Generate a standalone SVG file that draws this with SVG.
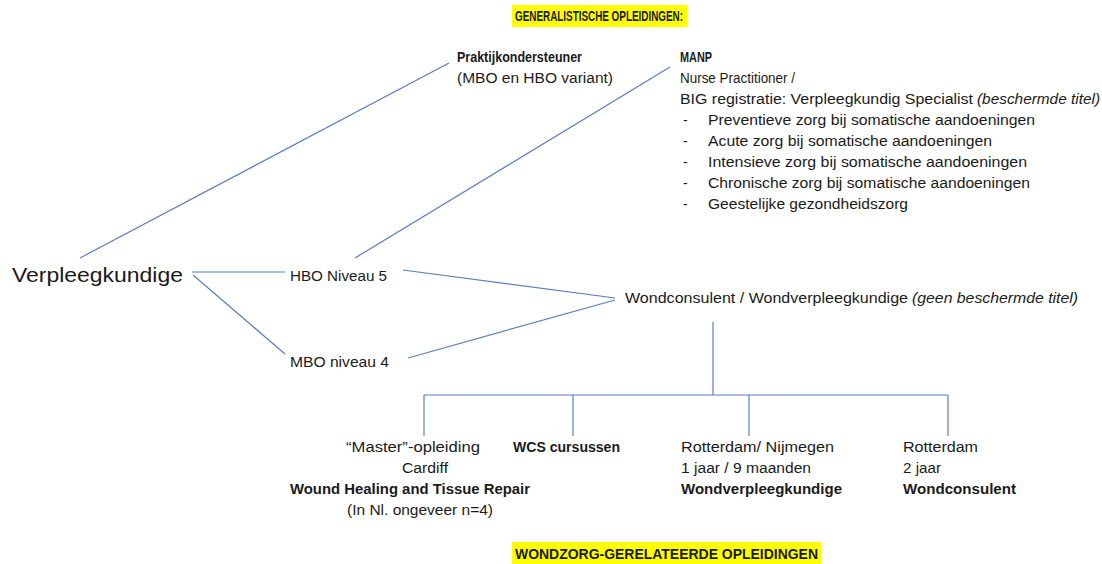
<svg xmlns="http://www.w3.org/2000/svg" width="1102" height="564" viewBox="0 0 1102 564">
<style>
text{font-family:"Liberation Sans",Arial,sans-serif;font-size:14px;fill:#1a1a1a}
.b{font-weight:bold}
.i{font-style:italic}
.big{font-size:20px}
.c line,.c polyline{stroke:#5a7fbf;stroke-width:1.2;fill:none}
.hl{fill:#ffff00}
</style>
<rect width="1102" height="564" fill="#ffffff"/>
<g id="title-top">
<rect class="hl" x="512" y="5" width="175" height="22"/>
<text class="b" x="515" y="21" textLength="168" lengthAdjust="spacingAndGlyphs">GENERALISTISCHE OPLEIDINGEN:</text>
</g>
<g id="title-bottom">
<rect class="hl" x="512" y="542" width="309" height="22"/>
<text class="b" x="515" y="559" textLength="303" lengthAdjust="spacingAndGlyphs">WONDZORG-GERELATEERDE OPLEIDINGEN</text>
</g>
<g class="c" id="connectors">
<line x1="80" y1="258" x2="449" y2="63"/>
<line x1="355" y1="258" x2="670" y2="67"/>
<line x1="192" y1="272" x2="285" y2="272"/>
<line x1="193" y1="275" x2="285" y2="354"/>
<line x1="403" y1="270" x2="615" y2="298"/>
<line x1="408" y1="358" x2="615" y2="300"/>
<line x1="713" y1="322" x2="713" y2="395"/>
<line x1="424" y1="395" x2="948" y2="395"/>
<line x1="424" y1="395" x2="424" y2="436"/>
<line x1="573" y1="395" x2="573" y2="436"/>
<line x1="749" y1="395" x2="749" y2="436"/>
<line x1="948" y1="395" x2="948" y2="436"/>
</g>
<g id="verpleegkundige">
<text class="big" x="12" y="282" textLength="171" lengthAdjust="spacingAndGlyphs">Verpleegkundige</text>
</g>
<g id="praktijkondersteuner">
<text class="b" x="457" y="62" textLength="125" lengthAdjust="spacingAndGlyphs">Praktijkondersteuner</text>
<text x="457" y="83" textLength="156" lengthAdjust="spacingAndGlyphs">(MBO en HBO variant)</text>
</g>
<g id="manp">
<text class="b" x="680" y="62" textLength="32" lengthAdjust="spacingAndGlyphs">MANP</text>
<text x="680" y="83" textLength="115" lengthAdjust="spacingAndGlyphs">Nurse Practitioner /</text>
<text x="680" y="104" textLength="293" lengthAdjust="spacingAndGlyphs">BIG registratie: Verpleegkundig Specialist</text>
<text class="i" x="977" y="104" textLength="123" lengthAdjust="spacingAndGlyphs">(beschermde titel)</text>
<text x="683" y="125">-</text>
<text x="708" y="125" textLength="327" lengthAdjust="spacingAndGlyphs">Preventieve zorg bij somatische aandoeningen</text>
<text x="683" y="146">-</text>
<text x="708" y="146" textLength="284" lengthAdjust="spacingAndGlyphs">Acute zorg bij somatische aandoeningen</text>
<text x="683" y="167">-</text>
<text x="708" y="167" textLength="319" lengthAdjust="spacingAndGlyphs">Intensieve zorg bij somatische aandoeningen</text>
<text x="683" y="188">-</text>
<text x="708" y="188" textLength="322" lengthAdjust="spacingAndGlyphs">Chronische zorg bij somatische aandoeningen</text>
<text x="683" y="209">-</text>
<text x="708" y="209" textLength="200" lengthAdjust="spacingAndGlyphs">Geestelijke gezondheidszorg</text>
</g>
<g id="hbo">
<text x="290" y="281" textLength="97" lengthAdjust="spacingAndGlyphs">HBO Niveau 5</text>
</g>
<g id="mbo">
<text x="290" y="367" textLength="99" lengthAdjust="spacingAndGlyphs">MBO niveau 4</text>
</g>
<g id="wondconsulent">
<text x="625" y="303" textLength="283" lengthAdjust="spacingAndGlyphs">Wondconsulent / Wondverpleegkundige</text>
<text class="i" x="912" y="303" textLength="166" lengthAdjust="spacingAndGlyphs">(geen beschermde titel)</text>
</g>
<g id="master">
<text x="346" y="452" textLength="134" lengthAdjust="spacingAndGlyphs">“Master”-opleiding</text>
<text x="402" y="473" textLength="46" lengthAdjust="spacingAndGlyphs">Cardiff</text>
<text class="b" x="290" y="494" textLength="240" lengthAdjust="spacingAndGlyphs">Wound Healing and Tissue Repair</text>
<text x="347" y="515" textLength="146" lengthAdjust="spacingAndGlyphs">(In Nl. ongeveer n=4)</text>
</g>
<g id="wcs">
<text class="b" x="513" y="452" textLength="107" lengthAdjust="spacingAndGlyphs">WCS cursussen</text>
</g>
<g id="rotterdam-nijmegen">
<text x="681" y="452" textLength="153" lengthAdjust="spacingAndGlyphs">Rotterdam/ Nijmegen</text>
<text x="681" y="473" textLength="130" lengthAdjust="spacingAndGlyphs">1 jaar / 9 maanden</text>
<text class="b" x="681" y="494" textLength="161" lengthAdjust="spacingAndGlyphs">Wondverpleegkundige</text>
</g>
<g id="rotterdam">
<text x="903" y="452" textLength="75" lengthAdjust="spacingAndGlyphs">Rotterdam</text>
<text x="903" y="473" textLength="38" lengthAdjust="spacingAndGlyphs">2 jaar</text>
<text class="b" x="903" y="494" textLength="113" lengthAdjust="spacingAndGlyphs">Wondconsulent</text>
</g>
</svg>
